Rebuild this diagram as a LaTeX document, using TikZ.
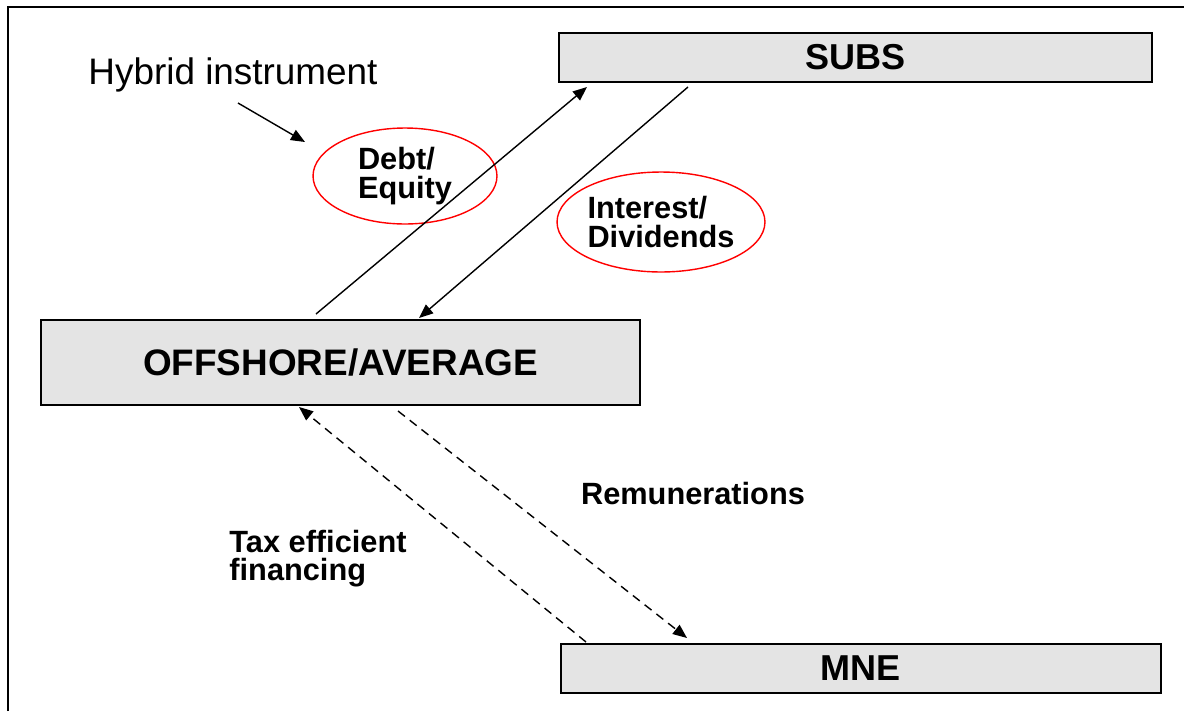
\documentclass[tikz,border=0pt]{standalone}
\usepackage{fontspec}
\setmainfont{Liberation Sans}
\usetikzlibrary{arrows.meta,shapes.geometric}
\definecolor{boxgray}{HTML}{E4E4E4}
\begin{document}
\begin{tikzpicture}[x=0.02cm,y=-0.02cm,
  box/.style={draw,line width=1.1pt,fill=boxgray,inner sep=0pt,font=\fontsize{20.5}{24}\selectfont\bfseries},
  tag/.style={draw=red,line width=0.8pt,ellipse,inner sep=0pt,align=left,font=\fontsize{17.5}{16}\selectfont\bfseries},
  lbl/.style={align=left,inner sep=0pt,font=\fontsize{17.5}{16}\selectfont\bfseries},
  flow/.style={line width=0.8pt,-{Triangle[length=8pt,width=6.5pt]}},
  dflow/.style={flow,dash pattern=on 5pt off 3.5pt}]
\useasboundingbox (0,0) rectangle (1184,711);
\draw[line width=1.3pt] (8,711) -- (8,7) -- (1184,7);
\node[box,minimum width=11.86cm,minimum height=0.98cm] (subs) at (855.5,57.5) {SUBS};
\node[box,minimum width=11.98cm,minimum height=1.7cm,font=\fontsize{21}{24}\selectfont\bfseries] (off) at (340.5,362.5) {OFFSHORE/AVERAGE};
\node[box,minimum width=12cm,minimum height=0.98cm] (mne) at (861,668.5) {MNE};
\node[font=\fontsize{21}{24}\selectfont,inner sep=0pt] (hyb) at (233,75) {Hybrid instrument};
\node[tag,minimum width=3.68cm,minimum height=1.92cm] (debt) at (405,176) {Debt/\\Equity};
\node[tag,minimum width=4.16cm,minimum height=2cm] (int) at (661,222) {Interest/\\Dividends};
\node[lbl] (rem) at (693,494) {Remunerations};
\node[lbl] (tax) at (318,559) {Tax efficient\\financing};
\coordinate (hybA) at (238,103);
\coordinate (hybB) at (305,142);
\coordinate (upA) at (316,314);
\coordinate (upB) at (587,87);
\coordinate (dnA) at (688,87);
\coordinate (dnB) at (419,318);
\coordinate (finA) at (586,642);
\coordinate (finB) at (299,407);
\coordinate (remA) at (398,411);
\coordinate (remB) at (687,638);
\draw[flow] (hybA) -- (hybB);
\draw[flow] (upA) -- (upB);
\draw[flow] (dnA) -- (dnB);
\draw[dflow] (finA) -- (finB);
\draw[dflow] (remA) -- (remB);
\end{tikzpicture}
\end{document}
